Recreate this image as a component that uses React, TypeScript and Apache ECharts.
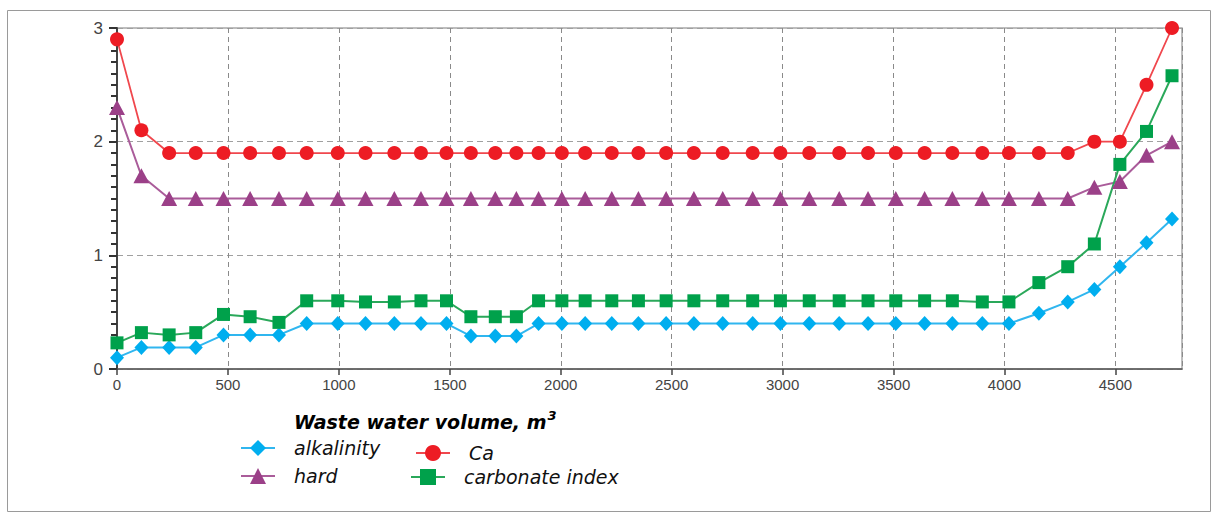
import React, { useEffect, useRef } from "react";
import * as echarts from "echarts";

const xValues = [0, 110, 235, 355, 480, 600, 730, 855, 995, 1120, 1250, 1370, 1485, 1595, 1705, 1800, 1900, 2005, 2110, 2230, 2350, 2475, 2600, 2730, 2865, 2990, 3120, 3255, 3385, 3510, 3640, 3765, 3900, 4020, 4155, 4285, 4405, 4520, 4640, 4755];

const alkalinity = [0.1, 0.19, 0.19, 0.19, 0.3, 0.3, 0.3, 0.4, 0.4, 0.4, 0.4, 0.4, 0.4, 0.29, 0.29, 0.29, 0.4, 0.4, 0.4, 0.4, 0.4, 0.4, 0.4, 0.4, 0.4, 0.4, 0.4, 0.4, 0.4, 0.4, 0.4, 0.4, 0.4, 0.4, 0.49, 0.59, 0.7, 0.9, 1.11, 1.32];
const hard = [2.3, 1.7, 1.5, 1.5, 1.5, 1.5, 1.5, 1.5, 1.5, 1.5, 1.5, 1.5, 1.5, 1.5, 1.5, 1.5, 1.5, 1.5, 1.5, 1.5, 1.5, 1.5, 1.5, 1.5, 1.5, 1.5, 1.5, 1.5, 1.5, 1.5, 1.5, 1.5, 1.5, 1.5, 1.5, 1.5, 1.6, 1.65, 1.88, 2.0];
const ca = [2.9, 2.1, 1.9, 1.9, 1.9, 1.9, 1.9, 1.9, 1.9, 1.9, 1.9, 1.9, 1.9, 1.9, 1.9, 1.9, 1.9, 1.9, 1.9, 1.9, 1.9, 1.9, 1.9, 1.9, 1.9, 1.9, 1.9, 1.9, 1.9, 1.9, 1.9, 1.9, 1.9, 1.9, 1.9, 1.9, 2.0, 2.0, 2.5, 3.0];
const carbonateIndex = [0.23, 0.32, 0.3, 0.32, 0.48, 0.46, 0.41, 0.6, 0.6, 0.59, 0.59, 0.6, 0.6, 0.46, 0.46, 0.46, 0.6, 0.6, 0.6, 0.6, 0.6, 0.6, 0.6, 0.6, 0.6, 0.6, 0.6, 0.6, 0.6, 0.6, 0.6, 0.6, 0.59, 0.59, 0.76, 0.9, 1.1, 1.8, 2.09, 2.58];

const seriesNames = ["alkalinity", "hard", "Ca", "carbonate index"];
const xTitle = "Waste water volume, m";

export default function App() {
  const ref = useRef<HTMLDivElement>(null);
  useEffect(() => {
    if (!ref.current) return;
    const chart = echarts.init(ref.current, null, { renderer: "svg" });
    const pair = (arr: number[]) => xValues.map((x, i) => [x, arr[i]]);
    const legendText = {
      fontFamily: "DejaVu Sans",
      fontStyle: "italic",
      fontSize: 19,
      color: "#111",
      lineHeight: 20,
      padding: [0, 0, 0, 14],
    };
    const mkLegend = (name: string, left: number, top: number) => ({
      data: [name],
      left,
      top,
      padding: 0,
      itemWidth: 34,
      itemHeight: 20,
      selectedMode: false,
      textStyle: legendText,
    });
    chart.setOption({
      animation: false,
      backgroundColor: "#fff",
      title: {
        left: 294,
        top: 409,
        padding: 0,
        text: "{a|" + xTitle + "}{s|3}",
        textStyle: {
          rich: {
            a: { fontFamily: "DejaVu Sans", fontStyle: "italic", fontWeight: "bold", fontSize: 19, color: "#000" },
            s: { fontFamily: "DejaVu Sans", fontStyle: "italic", fontSize: 13, color: "#000", verticalAlign: "top", padding: [0, 0, 12, 1] },
          },
        },
      },
      legend: [
        mkLegend(seriesNames[0], 240, 438),
        mkLegend(seriesNames[1], 240, 466),
        mkLegend(seriesNames[2], 415, 443),
        mkLegend(seriesNames[3], 410, 467),
      ],
      graphic: [
        {
          type: "rect",
          shape: { x: 7.5, y: 10.5, width: 1203, height: 501 },
          style: { fill: "none", stroke: "#9a9a9a", lineWidth: 1 },
          silent: true,
        },
      ],
      grid: {
        left: 117,
        right: 36,
        top: 28,
        bottom: 145,
        show: true,
        borderColor: "#a8a8a8",
        borderWidth: 1.5,
      },
      xAxis: {
        type: "value",
        min: 0,
        max: 4800,
        interval: 500,
        axisLine: { show: true, lineStyle: { color: "#555", width: 1.5 } },
        axisTick: { show: true, inside: false, length: 6, lineStyle: { color: "#444", width: 1.5 } },
        axisLabel: {
          showMaxLabel: false,
          margin: 8,
          fontFamily: "Liberation Sans Narrow, Arial Narrow, Liberation Sans",
          fontSize: 15,
          color: "#444",
          formatter: (v: number) => String(v),
        },
        splitLine: { show: true, lineStyle: { type: [5, 4], color: "#8a8a8a", width: 1 } },
      },
      yAxis: {
        type: "value",
        min: 0,
        max: 3,
        interval: 1,
        axisLine: { show: true, lineStyle: { color: "#444", width: 2 } },
        axisTick: { show: true, inside: false, length: 8, lineStyle: { color: "#333", width: 2 } },
        minorTick: { show: true, splitNumber: 10, length: 6, lineStyle: { color: "#333", width: 2 } },
        axisLabel: {
          margin: 14,
          fontFamily: "Liberation Sans, Arial",
          fontSize: 17,
          color: "#444",
        },
        splitLine: { show: true, lineStyle: { type: [6, 4], color: "#a0a0a0", width: 1.2 } },
      },
      series: [
        {
          name: seriesNames[0],
          type: "line",
          data: pair(alkalinity),
          symbol: "diamond",
          symbolSize: [14, 15],
          itemStyle: { color: "#00aeef" },
          lineStyle: { color: "#30b6ef", width: 2 },
          z: 3,
        },
        {
          name: seriesNames[1],
          type: "line",
          data: pair(hard),
          symbol: "triangle",
          symbolSize: [16, 15],
          itemStyle: { color: "#9b4088" },
          lineStyle: { color: "#aa5c9a", width: 2 },
          z: 3,
        },
        {
          name: seriesNames[2],
          type: "line",
          data: pair(ca),
          symbol: "circle",
          symbolSize: 14,
          itemStyle: { color: "#ed1c24" },
          lineStyle: { color: "#f0474d", width: 1.8 },
          z: 3,
        },
        {
          name: seriesNames[3],
          type: "line",
          data: pair(carbonateIndex),
          symbol: "rect",
          symbolSize: 13,
          itemStyle: { color: "#00a14b" },
          lineStyle: { color: "#2aa85a", width: 2 },
          z: 3,
        },
      ],
    });
    return () => chart.dispose();
  }, []);
  return (
    <div
      ref={ref}
      style={{ position: "fixed", left: 0, top: 0, width: 1218, height: 514 }}
    />
  );
}
